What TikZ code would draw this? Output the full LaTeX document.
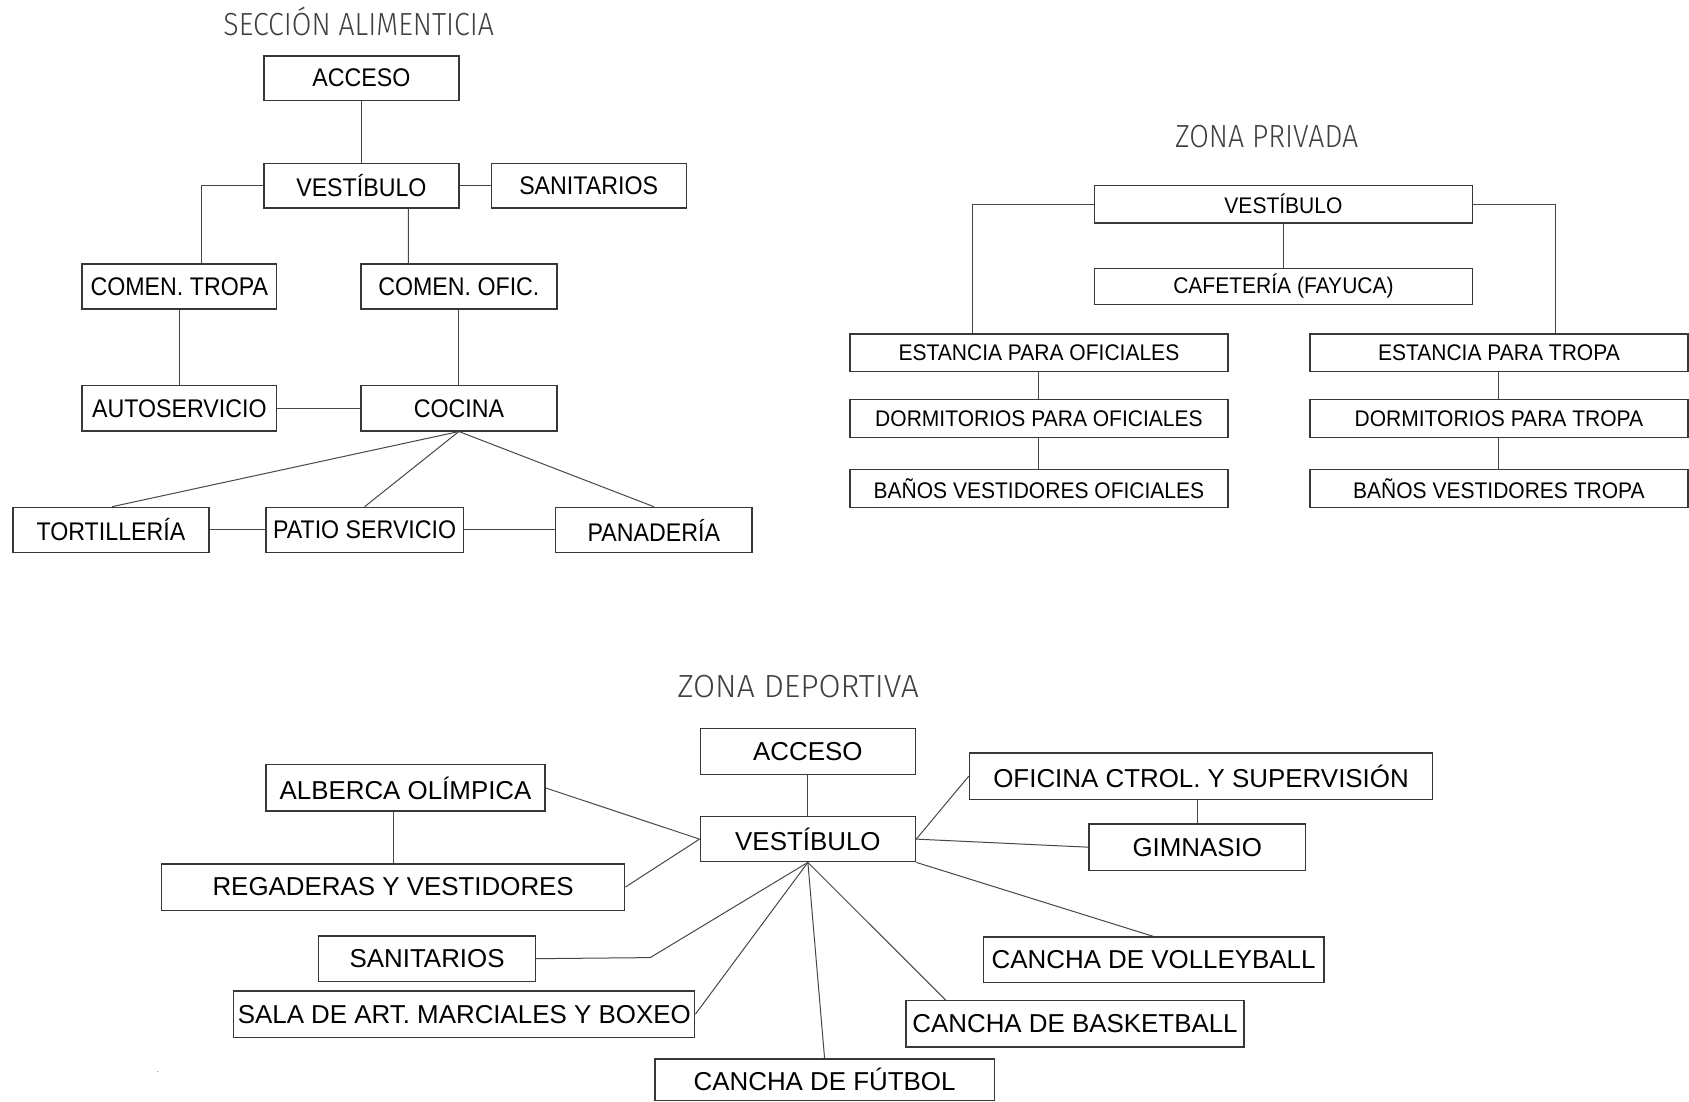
\documentclass[tikz,border=0pt]{standalone}
\usepackage{fontspec}
\setmainfont{Liberation Sans}
\newfontfamily\fa[FakeStretch=0.91]{Liberation Sans}
\newfontfamily\fb[FakeStretch=0.93]{Liberation Sans}
\newfontfamily\fc{Liberation Sans}
\newfontfamily\ftitle[FakeStretch=0.89]{Fira Sans Light}
\newfontfamily\ftitlew{Fira Sans Light}
\usetikzlibrary{fit,calc}
\tikzset{
  box/.style={draw=black!78, line width=1.3pt, inner sep=0pt},
  la/.style={inner sep=0pt, text=black, font=\fa\fontsize{25.5}{30}\selectfont},
  lb/.style={inner sep=0pt, text=black, font=\fb\fontsize{22.6}{26}\selectfont},
  lc/.style={inner sep=0pt, text=black, font=\fc\fontsize{25.9}{30}\selectfont},
  conn/.style={draw=black!72, line width=1pt},
  ttl/.style={inner sep=0pt, text=black!75, font=\ftitle\fontsize{32}{36}\selectfont},
  ttlw/.style={inner sep=0pt, text=black!75, font=\ftitlew\fontsize{32}{36}\selectfont}
}
\begin{document}
\begin{tikzpicture}[x=1.0772pt, y=-1.0772pt]
\useasboundingbox (0,0) rectangle (1568,1023);
\fill[white] (0,0) rectangle (1568,1023);

% ---------- SECCION ALIMENTICIA ----------
\node[ttl] (t1) at (333,20) {SECCIÓN ALIMENTICIA};
\node[box, fit={(245,52)(426,93)}, label={[la]center:ACCESO}] (s1acc) {};
\node[box, fit={(245,152)(426,193)}, label={[la]center:VESTÍBULO}] (s1vest) {};
\node[box, fit={(456,152)(637,193)}, label={[la]center:SANITARIOS}] (s1san) {};
\node[box, fit={(76,245)(257,287)}, label={[la]center:COMEN. TROPA}] (s1ct) {};
\node[box, fit={(335,245)(517,287)}, label={[la]center:COMEN. OFIC.}] (s1co) {};
\node[box, fit={(76,358)(257,400)}, label={[la]center:AUTOSERVICIO}] (s1auto) {};
\node[box, fit={(335,358)(517,400)}, label={[la]center:COCINA}] (s1coc) {};
\node[box, fit={(12,471)(194,513)}, label={[la]center:TORTILLERÍA}] (s1tor) {};
\node[box, fit={(247,471)(430,513)}, label={[la]center:PATIO SERVICIO}] (s1pat) {};
\node[box, fit={(516,471)(698,513)}, label={[la]center:PANADERÍA}] (s1pan) {};

\draw[conn] (s1acc.south) -- (s1vest.north);
\draw[conn] (s1vest.west) -| ($(s1ct.north)+(20.5,0)$);
\draw[conn] (s1vest.east) -- (s1san.west);
\draw[conn] ($(s1vest.south)+(43.5,0)$) -- ($(s1co.north)+(-47,0)$);
\draw[conn] (s1ct.south) -- (s1auto.north);
\draw[conn] (s1co.south) -- (s1coc.north);
\draw[conn] (s1auto.east) -- (s1coc.west);
\draw[conn] (s1coc.south) -- ($(s1tor.north)+(1,0)$);
\draw[conn] (s1coc.south) -- (s1pat.north);
\draw[conn] (s1coc.south) -- (s1pan.north);
\draw[conn] (s1tor.east) -- (s1pat.west);
\draw[conn] (s1pat.east) -- (s1pan.west);

% ---------- ZONA PRIVADA ----------
\node[ttl] (t2) at (1176,127) {ZONA PRIVADA};
\node[box, fit={(1016,172)(1367,207)}, label={[lb]center:VESTÍBULO}] (s2v) {};
\node[box, fit={(1016,249)(1367,283)}, label={[lb]center:CAFETERÍA (FAYUCA)}] (s2c) {};
\node[box, fit={(789,310)(1140,345)}, label={[lb]center:ESTANCIA PARA OFICIALES}] (s2eo) {};
\node[box, fit={(789,371)(1140,406)}, label={[lb]center:DORMITORIOS PARA OFICIALES}] (s2do) {};
\node[box, fit={(789,436)(1140,471)}, label={[lb]center:BAÑOS VESTIDORES OFICIALES}] (s2bo) {};
\node[box, fit={(1216,310)(1567,345)}, label={[lb]center:ESTANCIA PARA TROPA}] (s2et) {};
\node[box, fit={(1216,371)(1567,406)}, label={[lb]center:DORMITORIOS PARA TROPA}] (s2dt) {};
\node[box, fit={(1216,436)(1567,471)}, label={[lb]center:BAÑOS VESTIDORES TROPA}] (s2bt) {};

\draw[conn] (s2v.west) -| ($(s2eo.north)+(-61.5,0)$);
\draw[conn] (s2v.east) -| ($(s2et.north)+(52.5,0)$);
\draw[conn] (s2v.south) -- (s2c.north);
\draw[conn] (s2eo.south) -- (s2do.north);
\draw[conn] (s2do.south) -- (s2bo.north);
\draw[conn] (s2et.south) -- (s2dt.north);
\draw[conn] (s2dt.south) -- (s2bt.north);

% ---------- ZONA DEPORTIVA ----------
\node[ttlw] (t3) at (741,637) {ZONA DEPORTIVA};
\node[box, fit={(650,676)(850,719)}, label={[lc]center:ACCESO}] (s3a) {};
\node[box, fit={(650,758)(850,800)}, label={[lc]center:VESTÍBULO}] (s3v) {};
\node[box, fit={(247,710)(506,753)}, label={[lc]center:ALBERCA OLÍMPICA}] (s3al) {};
\node[box, fit={(150,802)(580,845)}, label={[lc]center:REGADERAS Y VESTIDORES}] (s3reg) {};
\node[box, fit={(296,869)(497,911)}, label={[lc]center:SANITARIOS}] (s3san) {};
\node[box, fit={(217,920)(645,963)}, label={[lc]center:SALA DE ART. MARCIALES Y BOXEO}] (s3sala) {};
\node[box, fit={(608,983)(923,1021.5)}, label={[lc]center:CANCHA DE FÚTBOL}] (s3fut) {};
\node[box, fit={(900,699)(1330,742)}, label={[lc]center:OFICINA CTROL. Y SUPERVISIÓN}] (s3of) {};
\node[box, fit={(1011,765)(1212,808)}, label={[lc]center:GIMNASIO}] (s3gim) {};
\node[box, fit={(913,870)(1229,912)}, label={[lc]center:CANCHA DE VOLLEYBALL}] (s3vol) {};
\node[box, fit={(841,929)(1155,972)}, label={[lc]center:CANCHA DE BASKETBALL}] (s3bas) {};

\draw[conn] (s3a.south) -- (s3v.north);
\draw[conn] (s3al.east) -- (s3v.west);
\draw[conn] (s3reg.east) -- (s3v.west);
\draw[conn] (s3reg.north) -- (s3reg.north |- s3al.south);
\draw[conn] (s3v.south) -- ($(s3san.east)+(106,-1)$) -- (s3san.east);
\draw[conn] (s3v.south) -- (s3sala.east);
\draw[conn] (s3v.south) -- (s3fut.north);
\draw[conn] (s3v.south) -- ($(s3bas.north west)+(37.5,0)$);
\draw[conn] (s3v.south east) -- (s3vol.north);
\draw[conn] (s3v.east) -- (s3gim.west);
\draw[conn] (s3v.east) -- (s3of.west);
\draw[conn] (s3gim.north) -- (s3gim.north |- s3of.south);

\fill[black!50] (146.5,995) circle (0.6);
\end{tikzpicture}
\end{document}
